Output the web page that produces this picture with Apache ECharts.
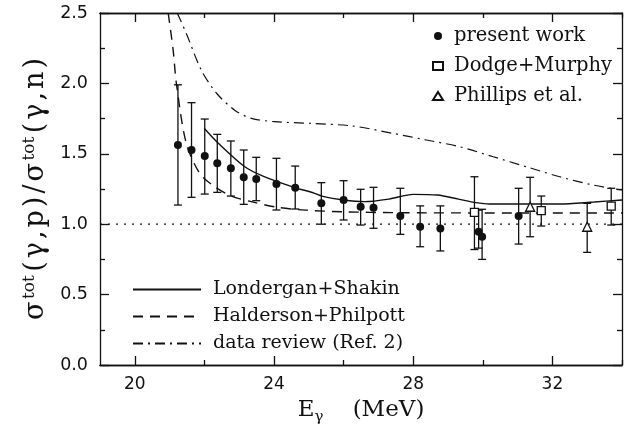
<!DOCTYPE html>
<html>
<head>
<meta charset="utf-8">
<script src="https://cdn.jsdelivr.net/npm/echarts@6/dist/echarts.min.js"></script>
<style>html,body{margin:0;padding:0;background:#fff}#c{width:626px;height:431px}</style>
</head>
<body>
<div id="c"></div>
<script>
// ---- data ----
const presentE  = [21.24, 21.63, 22.01, 22.37, 22.76, 23.13, 23.49, 24.07, 24.61, 25.36, 26.00, 26.49, 26.86, 27.63, 28.20, 28.78, 29.88, 29.98, 31.03];
const presentR  = [1.562, 1.527, 1.484, 1.432, 1.397, 1.333, 1.321, 1.285, 1.259, 1.148, 1.172, 1.124, 1.117, 1.058, 0.982, 0.970, 0.947, 0.911, 1.058];
const presentLo = [1.136, 1.191, 1.214, 1.226, 1.200, 1.141, 1.167, 1.101, 1.108, 1.000, 1.030, 0.994, 0.971, 0.928, 0.840, 0.810, 0.830, 0.750, 0.859];
const presentHi = [1.990, 1.863, 1.747, 1.638, 1.591, 1.527, 1.475, 1.468, 1.413, 1.295, 1.309, 1.248, 1.262, 1.255, 1.130, 1.130, 1.100, 1.106, 1.255];

const dodgeE  = [29.76, 31.68, 33.69];
const dodgeR  = [1.084, 1.096, 1.129];
const dodgeLo = [0.820, 0.987, 0.994];
const dodgeHi = [1.337, 1.200, 1.255];

const phillipsE  = [31.36, 33.00];
const phillipsR  = [1.124, 0.982];
const phillipsLo = [0.911, 0.800];
const phillipsHi = [1.333, 1.148];

const lsE = [22.0, 22.4, 23.15, 23.7, 24.6, 25.1, 25.4, 26.0, 26.6, 27.3, 28.0, 28.7, 29.3, 29.8, 30.2, 31.2, 32.2, 33.2, 34.0];
const lsR = [1.68, 1.575, 1.41, 1.34, 1.26, 1.225, 1.198, 1.172, 1.16, 1.178, 1.212, 1.207, 1.178, 1.153, 1.143, 1.143, 1.143, 1.158, 1.172];

const hpE = [20.96, 21.1, 21.2, 21.48, 21.87, 22.3, 22.78, 23.35, 24.1, 24.9, 26.0, 27.5, 30.0, 32.0, 34.0];
const hpR = [2.5, 2.24, 1.99, 1.574, 1.36, 1.266, 1.2, 1.16, 1.12, 1.1, 1.088, 1.082, 1.08, 1.08, 1.08];

const drE = [21.22, 21.48, 21.91, 22.35, 22.87, 23.35, 24.02, 25.07, 26.27, 27.42, 28.38, 29.34, 30.3, 31.25, 32.21, 33.17, 34.0];
const drR = [2.5, 2.355, 2.095, 1.93, 1.81, 1.752, 1.728, 1.716, 1.697, 1.645, 1.598, 1.55, 1.479, 1.408, 1.337, 1.278, 1.243];

const refE = [19, 34];
const refR = [1.0, 1.0];

const xMajorTicks = [20, 24, 28, 32];
const xMinorTicks = [22, 26, 30, 34];

// ---- helpers ----
const zip = (a, b) => a.map((v, i) => [v, b[i]]);
const zip3 = (a, b, c) => a.map((v, i) => [v, b[i], c[i]]);
const ink = '#111';
const serif = 'DejaVu Serif';
const sans = 'DejaVu Sans';
const richChars = (s, st) => Array.from(s).map(c => '{' + st + '|' + c + '}').join('');

function errRender(params, api) {
  const x = api.value(0), lo = api.value(1), hi = api.value(2);
  const t = api.coord([x, hi]), b = api.coord([x, lo]);
  const w = 4;
  const st = { stroke: ink, lineWidth: 1.3 };
  return { type: 'group', children: [
    { type: 'line', shape: { x1: t[0], y1: t[1], x2: b[0], y2: b[1] }, style: st },
    { type: 'line', shape: { x1: t[0] - w, y1: t[1], x2: t[0] + w, y2: t[1] }, style: st },
    { type: 'line', shape: { x1: b[0] - w, y1: b[1], x2: b[0] + w, y2: b[1] }, style: st }
  ]};
}
function errSeries(name, E, lo, hi) {
  return { name: name + ' err', type: 'custom', renderItem: errRender, data: zip3(E, lo, hi),
    encode: { x: 0, y: [1, 2] }, silent: true, z: 2 };
}

const axisLineStyle = { show: true, lineStyle: { color: ink, width: 1.3 } };
function xAx(pos, ticks, len, labels, extra) {
  return Object.assign({
    type: 'value', position: pos, min: 19, max: 34,
    axisLine: axisLineStyle,
    axisTick: { show: true, inside: true, length: len, customValues: ticks, lineStyle: { color: ink, width: 1.3 } },
    axisLabel: labels ? { show: true, customValues: ticks, color: ink, fontFamily: sans, fontSize: 17, margin: 11 } : { show: false },
    splitLine: { show: false }
  }, extra || {});
}
function yAx(pos, labels, extra) {
  return Object.assign({
    type: 'value', position: pos, min: 0, max: 2.5, interval: 0.5,
    axisLine: axisLineStyle,
    axisTick: { show: true, inside: true, length: 9, lineStyle: { color: ink, width: 1.3 } },
    minorTick: { show: true, splitNumber: 2, length: 5, lineStyle: { color: ink, width: 1.3 } },
    axisLabel: labels ? { show: true, color: ink, fontFamily: sans, fontSize: 17.5, margin: 12, formatter: v => v.toFixed(1) } : { show: false },
    splitLine: { show: false }, minorSplitLine: { show: false }
  }, extra || {});
}

const yTitle = richChars('σ', 'n') + '{b|tot}' + richChars('(γ,p)/σ', 'n') + '{b|tot}' + richChars('(γ,n)', 'n');

const chart = echarts.init(document.getElementById('c'), null, { renderer: 'canvas' });
chart.setOption({
  animation: false,
  backgroundColor: '#fff',
  grid: { left: 100, right: 4, top: 13, bottom: 66, containLabel: false, outerBoundsMode: 'none' },
  xAxis: [
    xAx('bottom', xMajorTicks, 9, true, {
      name: '{n|E}{b|γ}{n|    (MeV)}', nameLocation: 'middle', nameGap: 30,
      nameTextStyle: { color: ink, rich: {
        n: { fontFamily: serif, fontSize: 23, color: ink, lineHeight: 30, verticalAlign: 'middle' },
        b: { fontFamily: serif, fontSize: 15, color: ink, lineHeight: 14, verticalAlign: 'bottom' }
      } }
    }),
    xAx('bottom', xMinorTicks, 5, false),
    xAx('top', xMajorTicks, 9, false),
    xAx('top', xMinorTicks, 5, false)
  ],
  yAxis: [
    yAx('left', true, {
      name: yTitle, nameLocation: 'middle', nameGap: 36, nameRotate: 90,
      nameTextStyle: { color: ink, rich: {
        n: { fontFamily: serif, fontSize: 27, color: ink, lineHeight: 30, verticalAlign: 'middle', padding: [0, 1.5, 0, 1.5] },
        b: { fontFamily: serif, fontSize: 17, color: ink, lineHeight: 16, verticalAlign: 'top', padding: [0, 2, 0, 1] }
      } }
    }),
    yAx('right', false)
  ],
  legend: [
    { data: ['present work', 'Dodge+Murphy', 'Phillips et al.'], orient: 'vertical', left: 427, top: 21,
      itemWidth: 10, itemHeight: 8, itemGap: 10,
      textStyle: { fontFamily: serif, fontSize: 19.5, color: ink, padding: [0, 0, 0, 6] } },
    { data: ['Londergan+Shakin', 'Halderson+Philpott', 'data review (Ref. 2)'], orient: 'vertical', left: 127, top: 275,
      itemWidth: 68, itemHeight: 10, itemGap: 8, itemStyle: { opacity: 0 },
      textStyle: { fontFamily: serif, fontSize: 19, color: ink, padding: [0, 0, 0, 7] } }
  ],
  series: [
    { name: 'ref', type: 'line', data: zip(refE, refR), symbol: 'none', silent: true,
      lineStyle: { color: ink, width: 1.3, type: [2, 6] }, z: 1 },
    { name: 'Londergan+Shakin', type: 'line', data: zip(lsE, lsR), symbol: 'none', smooth: 0.3,
      lineStyle: { color: ink, width: 1.4, type: 'solid' }, itemStyle: { color: ink }, z: 1 },
    { name: 'Halderson+Philpott', type: 'line', data: zip(hpE, hpR), symbol: 'none', smooth: 0.3,
      lineStyle: { color: ink, width: 1.4, type: [10, 7] }, itemStyle: { color: ink }, z: 1 },
    { name: 'data review (Ref. 2)', type: 'line', data: zip(drE, drR), symbol: 'none', smooth: 0.3,
      lineStyle: { color: ink, width: 1.2, type: [10, 5, 2, 5] }, itemStyle: { color: ink }, z: 1 },
    errSeries('present work', presentE, presentLo, presentHi),
    errSeries('Dodge+Murphy', dodgeE, dodgeLo, dodgeHi),
    errSeries('Phillips et al.', phillipsE, phillipsLo, phillipsHi),
    { name: 'present work', type: 'scatter', data: zip(presentE, presentR), symbol: 'circle', symbolSize: 8,
      itemStyle: { color: ink, opacity: 1 }, z: 3 },
    { name: 'Dodge+Murphy', type: 'scatter', data: zip(dodgeE, dodgeR), symbol: 'rect', symbolSize: 8,
      itemStyle: { color: '#fff', borderColor: ink, borderWidth: 1.3, opacity: 1 }, z: 3 },
    { name: 'Phillips et al.', type: 'scatter', data: zip(phillipsE, phillipsR), symbol: 'triangle', symbolSize: 9,
      itemStyle: { color: '#fff', borderColor: ink, borderWidth: 1.3, opacity: 1 }, z: 3 }
  ]
});
</script>
</body>
</html>
